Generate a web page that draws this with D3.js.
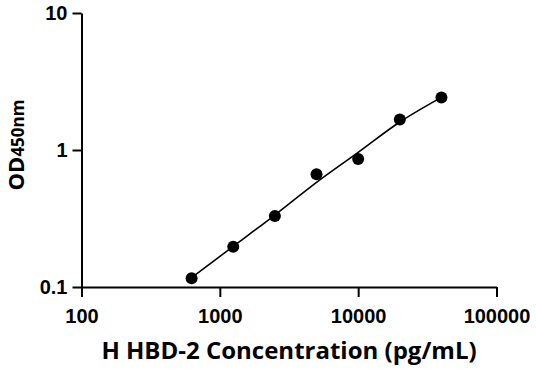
<!DOCTYPE html>
<html lang="en">
<head>
<meta charset="UTF-8">
<title>H HBD-2 standard curve</title>
<script src="https://d3js.org/d3.v7.min.js"></script>
<style>
  body { margin: 0; background: #fff; }
  .axis path, .axis line { stroke: #000; stroke-width: 2px; }
</style>
</head>
<body>
<svg width="536" height="371"></svg>
<script>
  // concentrations (pg/mL) and measured OD
  var conc = [625, 1250, 2500, 5000, 10000, 20000, 40000];
  var od = [0.116, 0.197, 0.33, 0.665, 0.86, 1.67, 2.42];
  // fitted curve read at the same concentrations
  var fitOd = [0.117, 0.198, 0.335, 0.58, 0.96, 1.6, 2.42];
  var xTicks = [100, 1000, 10000, 100000];
  var yTicks = [0.1, 1, 10];

  var svg = d3.select("svg");
  var x = d3.scaleLog().domain([100, 100000]).range([81.5, 496.5]);
  var y = d3.scaleLog().domain([0.1, 10]).range([287, 13]);

  var tickFont = function(sel) {
    sel.selectAll(".tick text")
      .style("font-family", "'Liberation Sans', Arial, sans-serif")
      .style("font-weight", "bold")
      .style("font-size", "20px")
      .attr("fill", "#000");
  };

  svg.append("g")
    .attr("class", "axis")
    .attr("transform", "translate(0,287)")
    .call(d3.axisBottom(x).tickValues(xTicks).tickFormat(d3.format("d")).tickSize(10).tickSizeOuter(0).tickPadding(12))
    .call(tickFont);

  svg.append("g")
    .attr("class", "axis")
    .attr("transform", "translate(81.5,0)")
    .call(d3.axisLeft(y).tickValues(yTicks).tickFormat(function(d) { return d; }).tickSize(9).tickSizeOuter(0).tickPadding(5))
    .call(tickFont);

  // fit line
  var line = d3.line()
    .x(function(d, i) { return x(conc[i]); })
    .y(function(d) { return y(d); })
    .curve(d3.curveCatmullRom);

  svg.append("path")
    .datum(fitOd)
    .attr("d", line)
    .attr("fill", "none")
    .attr("stroke", "#000")
    .attr("stroke-width", 1.6);

  svg.append("g").selectAll("circle")
    .data(od)
    .enter().append("circle")
    .attr("cx", function(d, i) { return x(conc[i]); })
    .attr("cy", function(d) { return y(d); })
    .attr("r", 6)
    .attr("fill", "#000");

  // axis titles
  svg.append("text")
    .attr("x", 289)
    .attr("y", 359)
    .attr("text-anchor", "middle")
    .style("font-family", "'Open Sans', sans-serif")
    .style("font-weight", "bold")
    .style("font-size", "24px")
    .text("H HBD-2 Concentration (pg/mL)");

  var yl = svg.append("text")
    .attr("transform", "translate(24,145) rotate(-90)")
    .attr("text-anchor", "middle")
    .style("font-family", "'Open Sans', sans-serif")
    .style("font-weight", "bold");
  yl.append("tspan").style("font-size", "22px").text("OD");
  yl.append("tspan").style("font-size", "17px").text("450nm");
</script>
</body>
</html>
